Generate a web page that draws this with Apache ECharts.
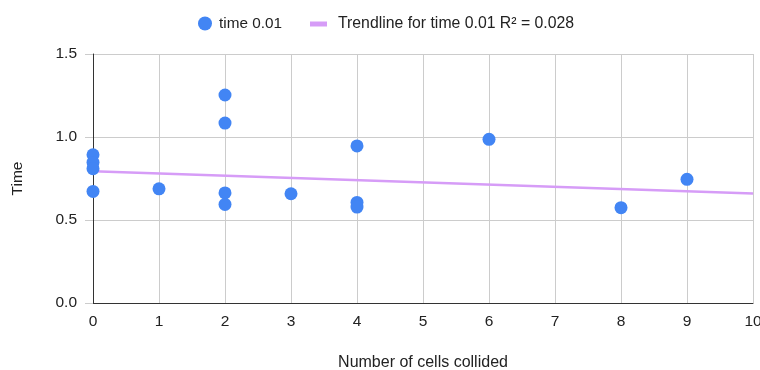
<!DOCTYPE html>
<html>
<head>
<meta charset="utf-8">
<script src="https://cdn.jsdelivr.net/npm/echarts@6/dist/echarts.min.js"></script>
<style>html,body{margin:0;padding:0;background:#fff}#c{width:760px;height:370px}</style>
</head>
<body>
<div id="c"></div>
<script>
const xValues = [0, 0, 0, 0, 1, 2, 2, 2, 2, 3, 4, 4, 4, 6, 8, 9];
const timeValues = [0.893, 0.847, 0.809, 0.672, 0.688, 1.253, 1.084, 0.663, 0.594, 0.658, 0.946, 0.606, 0.578, 0.986, 0.574, 0.745];
const trendX = [0, 10];
const trendY = [0.793, 0.660];
const yTicks = [0, 0.5, 1.0, 1.5];
const seriesName = 'time 0.01';
const trendName = 'Trendline for time 0.01 R\u00b2 = 0.028';

const font = 'Liberation Sans, Arial, sans-serif';
const chart = echarts.init(document.getElementById('c'), null, {renderer: 'canvas'});
chart.setOption({
  animation: false,
  textStyle: {fontFamily: font},
  legend: [{
    data: [{name: seriesName, icon: 'circle'}],
    left: 193, top: 11,
    itemWidth: 14, itemHeight: 14,
    textStyle: {fontSize: 15.3, color: '#222', fontFamily: font, padding: [0, 0, 0, 2]}
  }, {
    data: [{name: trendName, icon: 'rect'}],
    left: 305, top: 11, itemWidth: 17, itemHeight: 5,
    itemStyle: {opacity: 1},
    textStyle: {fontSize: 15.8, color: '#222', fontFamily: font, padding: [0, 0, 0, 6]}
  }],
  grid: {left: 93, right: 7, top: 54, bottom: 67, containLabel: false, outerBoundsMode: 'none'},
  xAxis: {
    type: 'value', min: 0, max: 10, interval: 1,
    name: 'Number of cells collided', nameLocation: 'middle', nameGap: 52,
    nameTextStyle: {fontSize: 16, color: '#222'},
    axisLine: {show: true, onZero: false, lineStyle: {color: '#333', width: 1}},
    axisTick: {show: false},
    axisLabel: {fontSize: 15.5, color: '#222', margin: 11},
    splitLine: {show: true, lineStyle: {color: '#ccc', width: 1}}
  },
  yAxis: {
    type: 'value', min: 0, max: 1.5, interval: 0.5,
    name: 'Time', nameLocation: 'middle', nameGap: 67, nameRotate: 90,
    nameTextStyle: {fontSize: 15.5, color: '#222'},
    axisLine: {show: true, onZero: false, lineStyle: {color: '#333', width: 1}},
    axisTick: {show: true, length: 8, lineStyle: {color: '#ccc'}},
    axisLabel: {fontSize: 15.5, color: '#222', margin: 16, formatter: v => v.toFixed(1)},
    splitLine: {show: true, lineStyle: {color: '#ccc', width: 1}}
  },
  series: [{
    name: trendName, type: 'line',
    data: trendX.map((x, i) => [x, trendY[i]]),
    symbol: 'none', z: 1,
    lineStyle: {color: '#d69cf7', width: 2.5},
    itemStyle: {color: '#d69cf7'}
  }, {
    name: seriesName, type: 'scatter',
    data: xValues.map((x, i) => [x, timeValues[i]]),
    symbolSize: 13, z: 3,
    itemStyle: {color: '#4285f4', opacity: 1}
  }]
});
</script>
</body>
</html>
